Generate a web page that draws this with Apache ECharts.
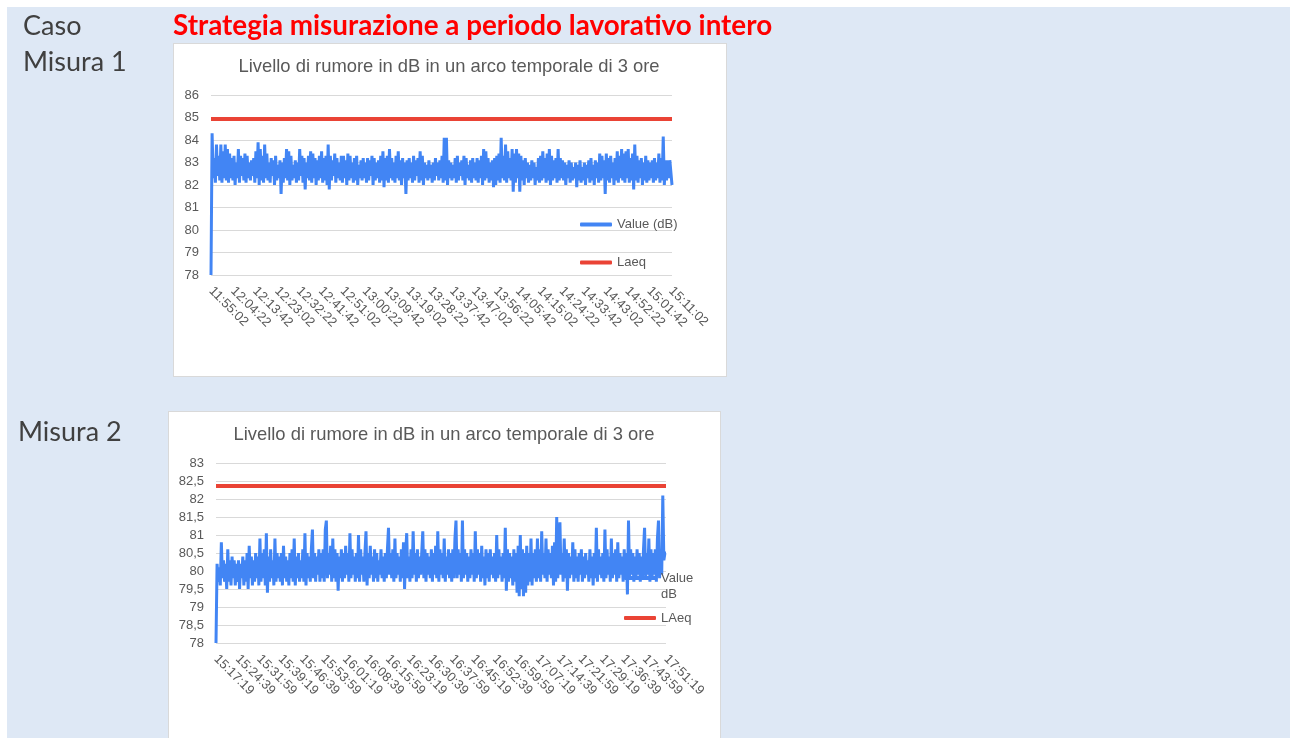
<!DOCTYPE html>
<html><head><meta charset="utf-8">
<script src="https://cdn.jsdelivr.net/npm/echarts@6/dist/echarts.min.js"></script>
<style>
html,body{margin:0;padding:0;background:#fff;}
#wrap{position:relative;width:1290px;height:738px;overflow:hidden;}
#panel{position:absolute;left:7px;top:7px;width:1283px;height:731px;background:#dee8f5;}
.box{position:absolute;background:#fff;border:1px solid #d9d9d9;box-sizing:border-box;}
#c{position:absolute;left:0;top:0;width:1290px;height:738px;}
</style>
</head><body>
<div id="wrap">
<div id="panel"></div>
<div class="box" style="left:173px;top:43px;width:554px;height:334px;"></div>
<div class="box" style="left:168px;top:411px;width:553px;height:340px;"></div>
<div id="c"></div>
</div>
<script>
// ---- Misura 1 ----
const start1 = '11:55:02';
const step1 = 28; // seconds between samples
const tickLabels1 = ['11:55:02','12:04:22','12:13:42','12:23:02','12:32:22','12:41:42','12:51:02','13:00:22','13:09:42','13:19:02','13:28:22','13:37:42','13:47:02','13:56:22','14:05:42','14:15:02','14:24:22','14:33:42','14:43:02','14:52:22','15:01:42','15:11:02'];
const values1 = [
78.0,84.3,82.3,83.2,82.1,83.8,82.4,83.3,82.2,83.8,82.1,83.5,82.3,83.8,82.2,83.6,82.1,83.4,82.3,83.2,
82.2,83.3,82.0,83.0,82.3,83.6,82.1,83.3,82.4,83.2,82.2,83.4,82.1,83.3,82.3,83.0,82.2,83.1,82.4,83.2,
82.1,83.5,82.3,83.9,82.0,83.6,82.2,83.3,82.1,83.8,82.3,83.4,82.2,83.0,82.1,83.2,82.4,83.1,82.0,83.3,
82.2,82.9,82.3,83.1,81.6,83.0,82.1,83.2,82.3,83.6,82.2,83.5,82.0,83.3,82.2,82.9,82.3,83.1,82.1,83.0,
82.2,83.6,82.4,83.3,82.1,83.2,81.8,83.0,82.3,83.3,82.2,83.5,82.1,83.4,82.3,83.2,82.0,83.1,82.2,83.3,
82.3,83.5,82.1,83.2,82.2,83.3,82.0,83.8,81.8,83.3,82.2,83.1,82.4,83.4,82.1,83.2,82.3,83.0,82.2,83.3,
82.1,83.3,82.3,83.1,82.0,83.4,82.2,83.3,82.3,83.0,82.1,83.2,82.2,83.3,82.0,82.9,82.3,83.1,82.2,83.2,
82.3,83.0,82.1,83.2,82.2,83.1,82.4,83.3,82.0,83.2,82.2,83.0,82.3,83.1,82.1,83.3,82.2,83.5,81.9,83.2,
82.2,83.3,82.1,83.6,82.3,83.2,82.2,83.0,82.1,83.3,82.3,83.5,82.2,83.1,82.0,83.2,82.3,83.0,81.6,83.1,
82.2,83.2,82.3,83.0,82.1,83.3,82.2,83.1,82.4,83.2,82.1,83.5,82.2,83.3,82.0,83.0,82.3,82.9,82.2,83.1,
82.3,82.9,82.1,83.0,82.2,83.2,82.4,83.0,82.2,83.1,82.3,83.3,82.1,84.1,82.2,84.1,82.0,83.1,82.3,83.0,
82.2,82.9,82.3,83.2,82.1,83.3,82.2,83.0,82.4,83.1,82.2,83.3,82.0,83.2,82.3,82.9,82.2,83.1,82.1,83.2,
82.3,83.0,82.2,83.2,82.1,83.1,82.3,83.3,82.0,83.6,82.2,83.5,82.3,83.2,82.1,83.0,82.2,83.1,81.9,83.2,
82.0,83.3,82.2,83.4,82.1,84.1,82.3,83.3,82.2,83.8,82.1,83.5,82.3,83.2,82.2,83.6,81.7,83.4,82.1,83.6,
82.3,83.4,81.7,83.3,82.2,83.1,82.0,83.2,82.3,83.0,82.1,82.9,82.2,83.1,82.3,83.0,82.0,82.8,82.2,83.2,
82.1,83.3,82.2,83.5,82.3,83.2,82.1,83.4,82.2,83.6,82.0,83.3,82.2,83.1,82.3,83.2,82.1,83.6,82.2,83.2,
82.3,83.1,82.2,83.0,82.0,82.9,82.3,83.1,82.1,83.0,82.2,82.8,82.3,83.0,81.9,82.9,82.2,83.1,82.1,82.8,
82.2,83.0,82.0,82.9,82.3,83.1,82.1,83.2,82.2,82.9,82.0,83.1,82.3,83.0,82.1,83.4,82.2,83.3,82.3,83.1,
81.6,83.4,82.2,83.2,82.1,83.3,82.3,83.0,82.0,83.2,82.2,83.5,82.1,83.3,82.3,83.6,82.2,83.4,82.1,83.5,
82.3,83.6,82.1,83.2,82.2,83.4,81.8,83.8,82.2,83.3,82.1,83.1,82.3,83.2,82.0,83.0,82.2,83.3,82.1,83.1,
82.2,83.0,82.3,83.1,82.1,83.2,82.2,83.0,82.3,83.4,82.1,83.2,82.2,84.15,82.0,83.1,82.2,83.1,82.3,83.1,
83.1,82.0
];
const laeq1 = 84.93;

// ---- Misura 2 ----
const start2 = '15:17:19';
const step2 = 22;
const tickLabels2 = ['15:17:19','15:24:39','15:31:59','15:39:19','15:46:39','15:53:59','16:01:19','16:08:39','16:15:59','16:23:19','16:30:39','16:37:59','16:45:19','16:52:39','16:59:59','17:07:19','17:14:39','17:21:59','17:29:19','17:36:39','17:43:59','17:51:19'];
const values2 = [
78.0,80.2,79.7,80.1,79.6,80.8,79.8,80.3,79.7,80.2,79.5,80.6,79.7,80.3,79.6,80.4,79.8,80.3,79.6,80.2,
79.7,80.3,79.5,80.2,79.8,80.4,79.6,80.3,79.7,80.5,79.5,80.7,79.8,80.4,79.6,80.3,79.7,80.5,79.8,80.4,
79.6,80.9,79.7,80.5,79.8,80.6,79.6,81.05,79.4,80.4,79.7,80.6,79.8,80.3,79.6,80.9,79.7,80.5,79.8,80.4,
79.7,80.5,79.6,80.7,79.8,80.4,79.7,80.3,79.6,80.5,79.8,80.6,79.7,80.9,79.6,80.4,79.8,80.5,79.7,80.3,
79.8,80.6,79.7,81.05,79.6,80.5,79.8,80.4,79.7,80.6,81.15,79.8,80.5,79.7,80.4,79.9,80.6,79.7,80.5,79.8,
80.6,79.7,81.15,81.4,79.8,80.5,79.9,80.7,79.7,80.9,79.8,80.6,79.7,80.5,79.45,80.4,79.8,80.6,79.7,80.5,
79.8,80.7,79.9,80.5,79.7,81.05,79.8,80.6,79.9,80.4,79.7,80.5,79.8,81.0,79.7,80.6,79.9,80.4,79.7,80.5,
81.1,79.6,80.5,79.8,80.7,79.9,80.4,79.7,80.6,79.8,80.5,79.7,80.3,79.9,80.6,79.8,80.4,79.7,80.5,79.8,
80.6,81.2,79.9,80.5,79.8,80.6,79.7,80.9,79.8,80.5,79.9,80.4,79.7,80.6,79.8,80.8,79.5,80.5,81.05,79.8,
80.4,79.7,80.6,79.8,81.1,79.9,80.5,79.7,80.6,79.8,80.4,79.9,80.5,81.1,79.8,80.6,79.7,80.5,79.9,80.4,
79.8,80.6,79.7,80.5,79.9,80.7,79.8,81.1,79.7,80.6,79.9,80.5,79.8,80.9,79.7,80.4,79.9,80.6,79.8,80.5,
79.7,80.6,79.8,80.9,81.4,79.8,80.6,79.9,80.5,79.7,81.4,79.8,80.6,79.9,80.5,79.7,80.4,79.8,80.6,79.9,
80.5,79.7,81.1,79.8,80.6,79.9,80.5,79.7,80.7,79.8,80.4,79.6,80.6,79.8,80.5,79.7,80.6,79.9,80.4,79.8,
80.5,79.7,81.0,79.8,80.6,79.9,80.4,79.7,80.5,79.8,81.2,79.45,80.6,79.7,80.5,79.8,80.4,79.6,80.6,79.7,
80.5,79.4,80.7,79.3,81.0,79.5,80.6,79.3,80.5,79.4,80.7,79.6,80.5,79.7,80.9,79.6,80.5,79.8,80.6,79.7,
80.9,79.8,80.6,79.7,81.1,79.9,80.5,79.8,80.9,79.7,80.6,79.9,80.5,79.8,80.7,79.6,80.8,79.7,81.5,79.8,
80.6,81.35,79.9,80.5,79.7,80.9,79.8,80.6,79.45,80.5,79.8,80.4,79.9,80.8,79.7,80.6,79.8,80.4,79.7,80.5,
79.9,80.6,79.7,80.4,79.8,80.5,79.9,80.3,79.7,80.6,79.8,80.4,79.6,80.5,79.8,81.2,79.7,80.6,79.9,80.4,
79.8,80.5,79.7,81.15,79.8,80.6,79.9,80.4,79.7,80.9,79.8,80.5,79.9,80.6,79.7,80.8,79.8,80.5,79.9,80.4,
79.7,80.6,79.8,80.5,79.35,81.4,79.8,80.6,79.9,80.5,79.7,80.4,79.8,80.6,79.9,80.5,79.7,80.4,79.8,80.6,
81.2,79.8,80.5,79.9,80.9,79.7,80.6,79.8,80.5,79.9,80.6,79.7,80.9,81.4,79.8,80.6,79.9,82.1,80.3,80.5,
80.5
];
const laeq2 = 82.36;

function pad(n){ return (n < 10 ? '0' : '') + n; }
function timeCats(start, step, n){
  const p = start.split(':').map(Number);
  const t0 = p[0]*3600 + p[1]*60 + p[2];
  const out = [];
  for (let i = 0; i < n; i++){
    const t = t0 + i*step;
    out.push(pad(Math.floor(t/3600)) + ':' + pad(Math.floor(t/60)%60) + ':' + pad(t%60));
  }
  return out;
}
const cats1 = timeCats(start1, step1, values1.length);
const cats2 = timeCats(start2, step2, values2.length);
const set1 = new Set(tickLabels1), set2 = new Set(tickLabels2);

const FONT = 'Liberation Sans, Arial, sans-serif';
const GRAY = '#595959';
const BLUE = '#4285f4', RED = '#ea4335';

const chart = echarts.init(document.getElementById('c'), null, {renderer:'canvas'});
chart.setOption({
  animation: false,
  title: [
    {text:'Caso', left:23, top:13, padding:0, textStyle:{fontFamily:'Lato', fontSize:27, fontWeight:'normal', color:'#404040'}},
    {text:'Misura 1', left:23, top:49, padding:0, textStyle:{fontFamily:'Lato', fontSize:27, fontWeight:'normal', color:'#404040'}},
    {text:'Misura 2', left:18, top:419, padding:0, textStyle:{fontFamily:'Lato', fontSize:27, fontWeight:'normal', color:'#404040'}},
    {text:'Strategia misurazione a periodo lavorativo intero', left:173, top:12, padding:0, textStyle:{fontFamily:'Lato', fontSize:27.8, fontWeight:'bold', color:'#ff0000'}},
    {text:'Livello di rumore in dB in un arco temporale di 3 ore', left:449, top:58, textAlign:'center', padding:0, textStyle:{fontFamily:FONT, fontSize:18.4, fontWeight:'normal', color:GRAY}},
    {text:'Livello di rumore in dB in un arco temporale di 3 ore', left:444, top:426, textAlign:'center', padding:0, textStyle:{fontFamily:FONT, fontSize:18.4, fontWeight:'normal', color:GRAY}}
  ],
  legend: [
    {data:[{name:'Value (dB)', icon:'roundRect'}, {name:'Laeq', icon:'roundRect'}], orient:'vertical', left:580, top:218, itemWidth:32, itemHeight:4, itemGap:25, padding:0,
     textStyle:{fontFamily:FONT, fontSize:13, color:GRAY}},
    {data:[{name:'Value dB', icon:'roundRect'}, {name:'LAeq', icon:'roundRect'}], orient:'vertical', left:624, top:554, itemWidth:32, itemHeight:4, itemGap:8, padding:0,
     formatter: n => n === 'Value dB' ? ' \nValue\ndB' : n,
     textStyle:{fontFamily:FONT, fontSize:13, color:GRAY, lineHeight:16}}
  ],
  grid: [
    {left:211, top:95, width:461, height:180, containLabel:false},
    {left:216, top:463, width:450, height:180, containLabel:false}
  ],
  xAxis: [
    {type:'category', gridIndex:0, data:cats1, boundaryGap:false,
     axisLine:{show:false}, axisTick:{show:false}, splitLine:{show:false},
     axisLabel:{rotate:-45, margin:14, interval:(i, v) => set1.has(v), fontFamily:FONT, fontSize:13, color:GRAY}},
    {type:'category', gridIndex:1, data:cats2, boundaryGap:false,
     axisLine:{show:false}, axisTick:{show:false}, splitLine:{show:false},
     axisLabel:{rotate:-45, margin:14, interval:(i, v) => set2.has(v), fontFamily:FONT, fontSize:13, color:GRAY}}
  ],
  yAxis: [
    {type:'value', gridIndex:0, min:78, max:86, interval:1,
     axisLine:{show:false}, axisTick:{show:false},
     splitLine:{lineStyle:{color:'#d9d9d9', width:1}},
     axisLabel:{margin:12, fontFamily:FONT, fontSize:13, color:GRAY}},
    {type:'value', gridIndex:1, min:78, max:83, interval:0.5,
     axisLine:{show:false}, axisTick:{show:false},
     splitLine:{lineStyle:{color:'#d9d9d9', width:1}},
     axisLabel:{margin:12, fontFamily:FONT, fontSize:13, color:GRAY, formatter: v => String(v).replace('.', ',')}}
  ],
  series: [
    {name:'Value (dB)', type:'line', xAxisIndex:0, yAxisIndex:0, data:values1, showSymbol:false, symbol:'none', sampling:null,
     lineStyle:{color:BLUE, width:3}, itemStyle:{color:BLUE}, z:3},
    {name:'Laeq', type:'line', xAxisIndex:0, yAxisIndex:0, data:[[cats1[0], laeq1],[cats1[cats1.length-1], laeq1]], showSymbol:false, symbol:'none',
     lineStyle:{color:RED, width:4}, itemStyle:{color:RED}, z:4},
    {name:'Value dB', type:'line', xAxisIndex:1, yAxisIndex:1, data:values2, showSymbol:false, symbol:'none', sampling:null,
     lineStyle:{color:BLUE, width:3}, itemStyle:{color:BLUE}, z:3},
    {name:'LAeq', type:'line', xAxisIndex:1, yAxisIndex:1, data:[[cats2[0], laeq2],[cats2[cats2.length-1], laeq2]], showSymbol:false, symbol:'none',
     lineStyle:{color:RED, width:4}, itemStyle:{color:RED}, z:4}
  ]
});
</script>
</body></html>
